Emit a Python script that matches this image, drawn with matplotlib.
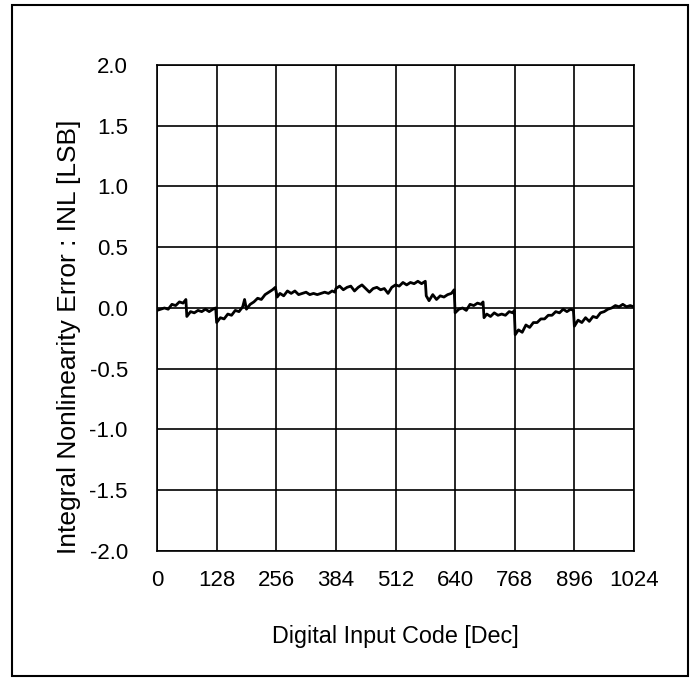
import matplotlib
matplotlib.use("Agg")
import matplotlib.pyplot as plt
from matplotlib.patches import Rectangle

plt.rcParams['font.family'] = ['Liberation Sans', 'DejaVu Sans']

# INL readings (code, LSB) taken off the plot; repeated-ish codes mark the steps
codes = [0, 8, 16, 24, 32, 40, 48, 56, 62, 64, 72, 80, 88, 96, 104, 112, 120, 126,
         128, 136, 144, 152, 160, 168, 176, 184, 188, 192, 200, 208, 216, 224, 232,
         240, 248, 254, 258, 264, 272, 280, 288, 296, 304, 312, 320, 328, 336, 344,
         352, 360, 368, 376, 382, 384, 392, 400, 408, 416, 424, 432, 440, 448, 456,
         464, 472, 480, 488, 496, 504, 512, 520, 528, 536, 544, 552, 560, 568, 576,
         578, 584, 592, 600, 608, 616, 624, 632, 638, 640, 648, 656, 664, 672, 680,
         688, 696, 700, 702, 708, 716, 724, 732, 740, 748, 756, 764, 767, 769, 776,
         784, 792, 800, 808, 816, 824, 832, 840, 848, 856, 864, 872, 880, 888, 894,
         896, 904, 912, 920, 928, 936, 944, 952, 960, 968, 976, 984, 992, 1000, 1008,
         1016, 1023]
inl = [-0.02, -0.01, 0.0, -0.01, 0.03, 0.02, 0.05, 0.04, 0.07, -0.07, -0.03, -0.04,
       -0.02, -0.03, -0.01, -0.03, -0.01, 0.0,
       -0.12, -0.08, -0.09, -0.05, -0.06, -0.02, -0.03, 0.01, 0.07, -0.01, 0.03, 0.05,
       0.08, 0.07, 0.11, 0.13, 0.15, 0.17, 0.09, 0.12, 0.10, 0.14, 0.12, 0.14, 0.11,
       0.12, 0.13, 0.11, 0.12, 0.11, 0.12, 0.13, 0.12, 0.14, 0.13, 0.16, 0.18, 0.15,
       0.17, 0.18, 0.14, 0.17, 0.19, 0.16, 0.13, 0.16, 0.17, 0.15, 0.16, 0.12, 0.17,
       0.19, 0.18, 0.21, 0.19, 0.21, 0.20, 0.22, 0.20, 0.22,
       0.10, 0.06, 0.11, 0.07, 0.10, 0.09, 0.11, 0.12, 0.15, -0.04, -0.01, 0.0, -0.02,
       0.03, 0.02, 0.04, 0.03, 0.05, -0.08, -0.05, -0.07, -0.04, -0.06, -0.05, -0.06,
       -0.03, -0.04, -0.02, -0.22, -0.18, -0.20, -0.14, -0.16, -0.12, -0.12, -0.09,
       -0.09, -0.06, -0.06, -0.03, -0.04, -0.01, -0.03, -0.01, -0.02,
       -0.15, -0.10, -0.12, -0.08, -0.11, -0.07, -0.08, -0.04, -0.03, -0.01, 0.0,
       0.02, 0.01, 0.03, 0.01, 0.02, 0.01]

x_ticks = [0, 128, 256, 384, 512, 640, 768, 896, 1024]
y_ticks = [-2.0, -1.5, -1.0, -0.5, 0.0, 0.5, 1.0, 1.5, 2.0]

fig = plt.figure(figsize=(7, 6.87), dpi=100)
ax = fig.add_axes([0.2243, 0.198, 0.6814, 0.7074])

ax.plot(codes, inl, color='black', lw=2.0, zorder=3)

ax.set_xlim(0, 1024)
ax.set_ylim(-2, 2)
ax.set_xticks(x_ticks)
ax.set_yticks(y_ticks)
ax.set_yticklabels(['%.1f' % v for v in y_ticks])
ax.grid(True, color='black', lw=1.2)
ax.tick_params(length=0, labelsize=16)
ax.tick_params(axis='y', pad=21)
ax.tick_params(axis='x', pad=14)
for s in ax.spines.values():
    s.set_linewidth(1.2)

ax.set_xlabel('Digital Input Code [Dec]', fontsize=16.8, labelpad=24)
# y title sits a bit below the axis centre in the original
fig.text(69 / 700, 1 - 337 / 687, 'Integral Nonlinearity Error : INL [LSB]',
         rotation=90, ha='center', va='center', fontsize=19)

fig.patches.append(Rectangle((12 / 700, 1 - 676 / 687), 676 / 700, 671 / 687,
                             transform=fig.transFigure, fill=False,
                             edgecolor='black', lw=1.5))

fig.savefig('out.png', dpi=100)
